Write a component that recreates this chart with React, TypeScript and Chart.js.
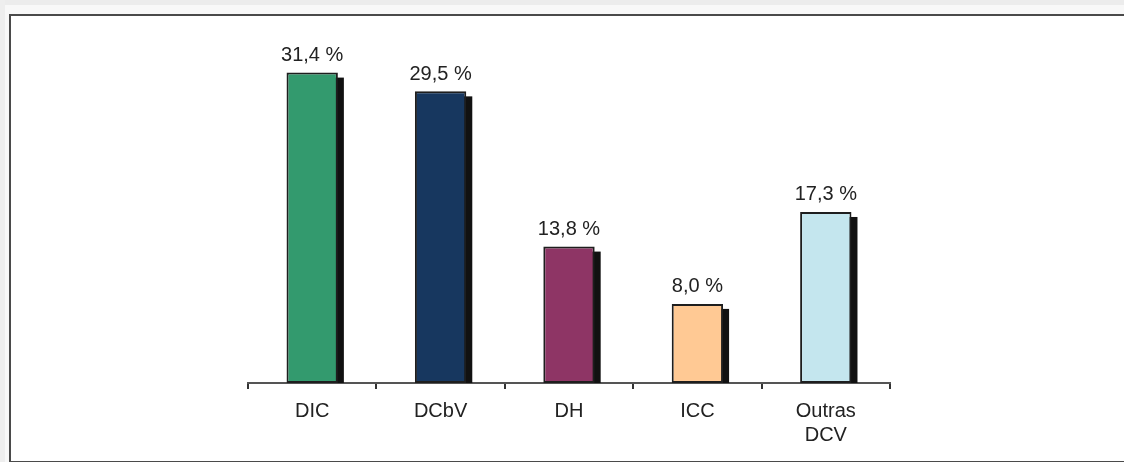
import React, { useEffect, useRef } from "react";
import { Chart, registerables } from "chart.js";

Chart.register(...registerables);

const categories: (string | string[])[] = ["DIC", "DCbV", "DH", "ICC", ["Outras", "DCV"]];
const values: number[] = [31.4, 29.5, 13.8, 8.0, 17.3];
const barColors: string[] = ["#339A6E", "#17375F", "#8E3565", "#FFC994", "#C4E6EE"];
const yMax = 35;

const FONT_FAMILY = "'Liberation Sans Narrow', 'Arial Narrow', 'Liberation Sans', Arial, sans-serif";

const shadowPlugin = {
  id: "barShadow",
  beforeDatasetsDraw(chart: any) {
    const ctx = chart.ctx;
    const meta = chart.getDatasetMeta(0);
    ctx.save();
    ctx.fillStyle = "#111111";
    meta.data.forEach((bar: any) => {
      const { x, y, width, base } = bar.getProps(["x", "y", "width", "base"], true);
      ctx.fillRect(x - width / 2 + 6, y + 5, width, base - y - 5);
    });
    ctx.restore();
  },
};

const valueLabelPlugin = {
  id: "valueLabels",
  afterDatasetsDraw(chart: any) {
    const ctx = chart.ctx;
    const meta = chart.getDatasetMeta(0);
    const data = chart.data.datasets[0].data as number[];
    ctx.save();
    ctx.fillStyle = "#222222";
    ctx.font = `20px ${FONT_FAMILY}`;
    ctx.textAlign = "center";
    ctx.textBaseline = "bottom";
    meta.data.forEach((bar: any, i: number) => {
      const { x, y } = bar.getProps(["x", "y"], true);
      const txt = `${data[i].toFixed(1).replace(".", ",")} %`;
      ctx.fillText(txt, x, y - 7);
    });
    ctx.restore();
  },
};

export default function App() {
  const canvasRef = useRef<HTMLCanvasElement | null>(null);

  useEffect(() => {
    document.body.style.margin = "0";
    document.body.style.background = "#f8f8f8";
    const canvas = canvasRef.current;
    if (!canvas) return;
    const chart = new Chart(canvas, {
      type: "bar",
      data: {
        labels: categories as any,
        datasets: [
          {
            data: values,
            backgroundColor: barColors,
            borderColor: "#1e1e1e",
            borderWidth: 2,
            borderSkipped: false,
            barPercentage: 0.4,
            categoryPercentage: 1,
          },
        ],
      },
      options: {
        responsive: false,
        animation: false,
        devicePixelRatio: 1,
        layout: { padding: { left: 248, right: 234, top: 37, bottom: 19 } },
        plugins: {
          legend: { display: false },
          tooltip: { enabled: false },
        },
        scales: {
          y: {
            display: false,
            min: 0,
            max: yMax,
          },
          x: {
            afterFit: (scale: any) => {
              scale.height = 60;
            },
            border: { display: true, color: "#555555", width: 2 },
            grid: {
              offset: true,
              drawOnChartArea: false,
              drawTicks: true,
              tickLength: 6,
              color: "#333333",
              lineWidth: 2,
            },
            ticks: {
              color: "#222222",
              padding: 10,
              font: { size: 20, family: FONT_FAMILY, lineHeight: 1.2 },
              maxRotation: 0,
              autoSkip: false,
            },
          },
        },
      },
      plugins: [shadowPlugin, valueLabelPlugin],
    });
    return () => chart.destroy();
  }, []);

  return (
    <div style={{ position: "relative", width: 1124, height: 462, overflow: "hidden", background: "#f8f8f8" }}>
      <div style={{ position: "absolute", left: 0, top: 0, width: 1124, height: 5, background: "#ececec" }} />
      <div style={{ position: "absolute", left: 0, top: 0, width: 5, height: 462, background: "#eeeeee" }} />
      <div
        style={{
          position: "absolute",
          left: 9,
          top: 14,
          width: 1130,
          height: 445,
          background: "#ffffff",
          border: "2px solid #4a4a4a",
          borderRight: "none",
        }}
      />
      <canvas
        ref={canvasRef}
        width={1124}
        height={462}
        style={{ position: "absolute", left: 0, top: 0, width: 1124, height: 462 }}
      />
    </div>
  );
}
